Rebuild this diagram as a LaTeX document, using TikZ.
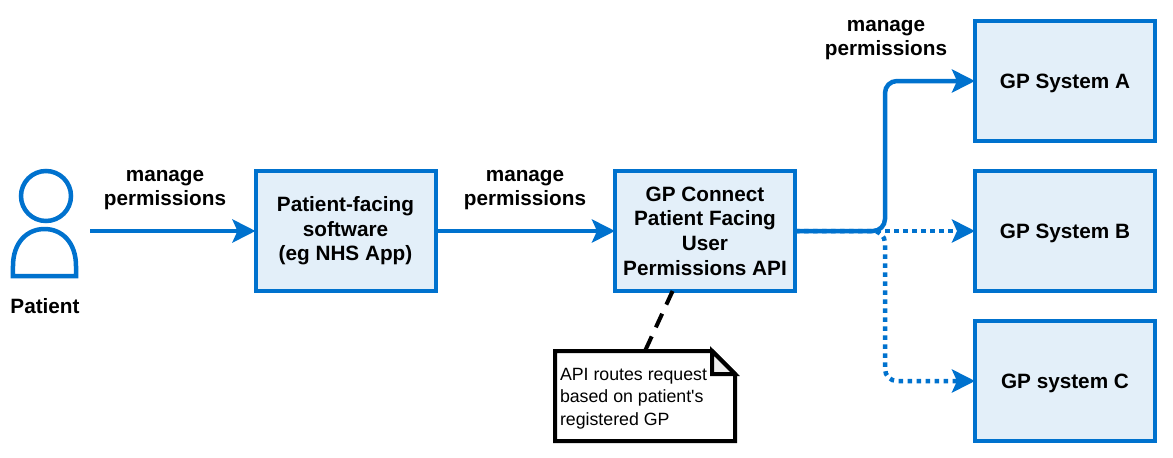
\documentclass[tikz,border=0pt]{standalone}
\usepackage{fontspec}
\setmainfont{Liberation Sans}
\usetikzlibrary{arrows.meta}
\usetikzlibrary{calc}
\definecolor{flowblue}{HTML}{0072CE}
\definecolor{boxblue}{HTML}{E3EFF9}
\definecolor{foldgrey}{HTML}{EFEFEF}
\tikzset{
  sysbox/.style={rectangle,draw=flowblue,fill=boxblue,line width=0.08cm,minimum width=3.6cm,minimum height=2.4cm,outer sep=0pt,align=center,font=\fontsize{11.8}{14}\selectfont\bfseries},
  gpbox/.style={sysbox,text depth=0pt},
  flowlabel/.style={align=center,font=\fontsize{11.8}{14}\selectfont\bfseries},
  flowline/.style={draw=flowblue,line width=0.09cm,-{Stealth[length=0.46cm,width=0.46cm,inset=0.1cm]}},
  flowdots/.style={flowline,dash pattern=on 0.09cm off 0.09cm},
  notetext/.style={align=flush left,text width=3.4cm,inner sep=0pt,font=\fontsize{10.1}{12.8}\selectfont},
}
\begin{document}
\begin{tikzpicture}
\useasboundingbox (0,0) rectangle (23.46,9.14);
% patient figure
\node[circle,draw=flowblue,line width=0.09cm,minimum size=1cm,inner sep=0pt] (head) at (0.92,5.22) {};
\draw[flowblue,line width=0.09cm] (0.26,3.62) -- (0.26,3.82) .. controls (0.26,4.3) and (0.55,4.56) .. (0.89,4.56) .. controls (1.23,4.56) and (1.52,4.3) .. (1.52,3.82) -- (1.52,3.62) -- cycle;
\node[flowlabel] (patient) at (0.9,3.02) {Patient};
\coordinate (patientout) at (1.8,4.52);

\node[sysbox] (app) at (6.91,4.52) {Patient-facing\\software\\(eg NHS App)};
\node[sysbox] (api) at (14.1,4.52) {GP Connect\\Patient Facing\\User\\Permissions API};
\node[gpbox] (gpa) at (21.3,7.52) {GP System A};
\node[gpbox] (gpb) at (21.3,4.52) {GP System B};
\node[gpbox] (gpc) at (21.3,1.52) {GP system C};

\node[flowlabel] (manageapp) at (3.3,5.34) {manage\\permissions};
\node[flowlabel] (manageapi) at (10.5,5.34) {manage\\permissions};
\node[flowlabel] (managegp) at (17.72,8.34) {manage\\permissions};

\draw[flowline] (patientout) -- (app.west);
\draw[flowline] (app.east) -- (api.west);

% branch to the gp systems
\coordinate (branch) at (17.7,4.52);
\draw[flowdots] (api.east) -- (gpb.west);
\draw[flowdots,rounded corners=0.24cm] (api.east) -- (branch) |- (gpc.west);
\draw[flowline,rounded corners=0.24cm] (api.east) -- (branch) |- (gpa.west);

% note
\node[notetext] (note) at (12.9,1.17) {API routes request\\based on patient\textquotesingle s\\registered GP};
\coordinate (notenw) at ($(note.center)+(-1.8,0.95)$);
\coordinate (notese) at ($(note.center)+(1.8,-0.85)$);
\draw[line width=0.08cm,dash pattern=on 0.3cm off 0.2cm] ($(api.south west)!0.32!(api.south east)$) -- (notenw -| note.center);
\draw[line width=0.08cm] (notenw) -- ($(notenw -| notese)+(-0.46,0)$) -- ($(notenw -| notese)+(0,-0.46)$) -- (notese) -- (notenw |- notese) -- cycle;
\draw[line width=0.08cm,fill=foldgrey] ($(notenw -| notese)+(-0.46,0)$) -- ($(notenw -| notese)+(0,-0.46)$) -- ($(notenw -| notese)+(-0.46,-0.46)$) -- cycle;
\end{tikzpicture}
\end{document}
